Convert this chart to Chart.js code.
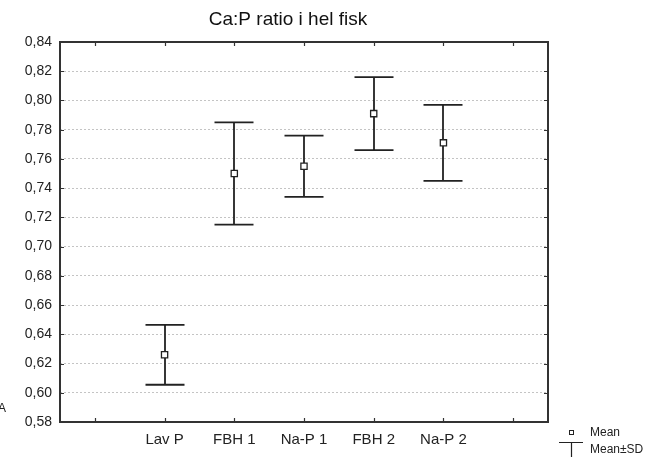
<!DOCTYPE html>
<html>
<head>
<meta charset="utf-8">
<script src="https://cdn.jsdelivr.net/npm/chart.js@4.4.1/dist/chart.umd.min.js"></script>
<style>
  html, body { margin: 0; padding: 0; background: #fff; }
  #wrap { width: 656px; height: 458px; }
</style>
</head>
<body>
<div id="wrap"><canvas id="chart" width="656" height="458"></canvas></div>
<script>
// Chart data
const categories = ['', 'Lav P', 'FBH 1', 'Na-P 1', 'FBH 2', 'Na-P 2', ''];
const means = [null, 0.626, 0.750, 0.755, 0.791, 0.771, null];
const sds = [null, 0.0205, 0.035, 0.021, 0.025, 0.026, null];
const yMin = 0.58;
const yMax = 0.84;
const yStep = 0.02;

const titleText = 'Ca:P ratio i hel fisk';
const FONT = '"Liberation Sans", Arial, sans-serif';
const INK = '#222222';

// Function to format a tick value with decimal comma
function formatTick(value) {
    return Number(value).toFixed(2).replace('.', ',');
}

// Draws frame, inward ticks, error bars, title and the legend
const decorPlugin = {
    id: 'decor',
    beforeDatasetsDraw(chart) {
        const ctx = chart.ctx;
        const x = chart.scales.x;
        const y = chart.scales.y;

        ctx.save();
        ctx.strokeStyle = INK;
        ctx.lineWidth = 1.8;

        // Error bars (mean ± SD)
        const capHalf = 19.5;
        means.forEach((m, i) => {
            if (m === null) return;
            const px = Math.round(x.getPixelForValue(i));
            const top = y.getPixelForValue(m + sds[i]);
            const bottom = y.getPixelForValue(m - sds[i]);
            ctx.beginPath();
            ctx.moveTo(px, top);
            ctx.lineTo(px, bottom);
            ctx.moveTo(px - capHalf, top);
            ctx.lineTo(px + capHalf, top);
            ctx.moveTo(px - capHalf, bottom);
            ctx.lineTo(px + capHalf, bottom);
            ctx.stroke();
        });
        ctx.restore();
    },
    afterDraw(chart) {
        const ctx = chart.ctx;
        const area = chart.chartArea;
        const x = chart.scales.x;
        const y = chart.scales.y;
        const tickLen = 4;

        ctx.save();
        ctx.strokeStyle = '#333333';
        ctx.lineWidth = 2;
        ctx.strokeRect(area.left, area.top, area.right - area.left, area.bottom - area.top);

        // inward tick marks on all four sides
        ctx.lineWidth = 1.2;
        ctx.beginPath();
        x.ticks.forEach((t, i) => {
            const px = Math.round(x.getPixelForTick(i)) + 0.5;
            ctx.moveTo(px, area.bottom);
            ctx.lineTo(px, area.bottom - tickLen);
            ctx.moveTo(px, area.top);
            ctx.lineTo(px, area.top + tickLen);
        });
        y.ticks.forEach((t, i) => {
            const py = Math.round(y.getPixelForTick(i)) + 0.5;
            ctx.moveTo(area.left, py);
            ctx.lineTo(area.left + tickLen, py);
            ctx.moveTo(area.right, py);
            ctx.lineTo(area.right - tickLen, py);
        });
        ctx.stroke();

        // Title
        ctx.fillStyle = '#111111';
        ctx.font = '19px ' + FONT;
        ctx.textAlign = 'center';
        ctx.textBaseline = 'alphabetic';
        ctx.fillText(titleText, 288, 25);

        // stray axis letter at left edge
        ctx.font = '12px ' + FONT;
        ctx.textAlign = 'left';
        ctx.textBaseline = 'middle';
        ctx.fillStyle = INK;
        ctx.fillText('A', -2, 409);

        // Legend
        ctx.font = '12px ' + FONT;
        ctx.fillText('Mean', 590, 433);
        ctx.fillText('Mean\u00B1SD', 590, 450);

        ctx.fillStyle = '#ffffff';
        ctx.strokeStyle = INK;
        ctx.lineWidth = 1;
        ctx.fillRect(569.5, 430.5, 4, 4);
        ctx.strokeRect(569.5, 430.5, 4, 4);
        ctx.lineWidth = 1.2;
        ctx.beginPath();
        ctx.moveTo(559, 442.5);
        ctx.lineTo(583, 442.5);
        ctx.moveTo(571.5, 442.5);
        ctx.lineTo(571.5, 457);
        ctx.stroke();
        ctx.restore();
    }
};

const chartCtx = document.getElementById('chart').getContext('2d');
const chart = new Chart(chartCtx, {
    type: 'line',
    data: {
        labels: categories,
        datasets: [{
            label: 'Mean',
            data: means,
            showLine: false,
            pointStyle: 'rect',
            pointRadius: 4.4,
            pointHoverRadius: 4.4,
            pointBackgroundColor: '#ffffff',
            pointBorderColor: INK,
            pointBorderWidth: 1.3
        }]
    },
    options: {
        responsive: false,
        animation: false,
        events: [],
        layout: {
            padding: { left: 0, right: 108, top: 42, bottom: 0 }
        },
        plugins: {
            legend: { display: false },
            title: { display: false },
            tooltip: { enabled: false }
        },
        scales: {
            x: {
                type: 'category',
                offset: true,
                grid: { display: false, drawTicks: false },
                border: { display: false },
                ticks: {
                    autoSkip: false,
                    maxRotation: 0,
                    padding: 9,
                    color: INK,
                    font: { family: FONT, size: 15 }
                },
                afterFit(scale) { scale.height = 36; }
            },
            y: {
                min: yMin,
                max: yMax,
                grid: {
                    drawTicks: false,
                    color: '#c4c4c4',
                    lineWidth: 1
                },
                border: { display: false, dash: [2, 2] },
                ticks: {
                    stepSize: yStep,
                    padding: 8,
                    color: INK,
                    font: { family: FONT, size: 14 },
                    callback: formatTick
                },
                afterFit(scale) { scale.width = 60; }
            }
        }
    },
    plugins: [decorPlugin]
});
</script>
</body>
</html>
